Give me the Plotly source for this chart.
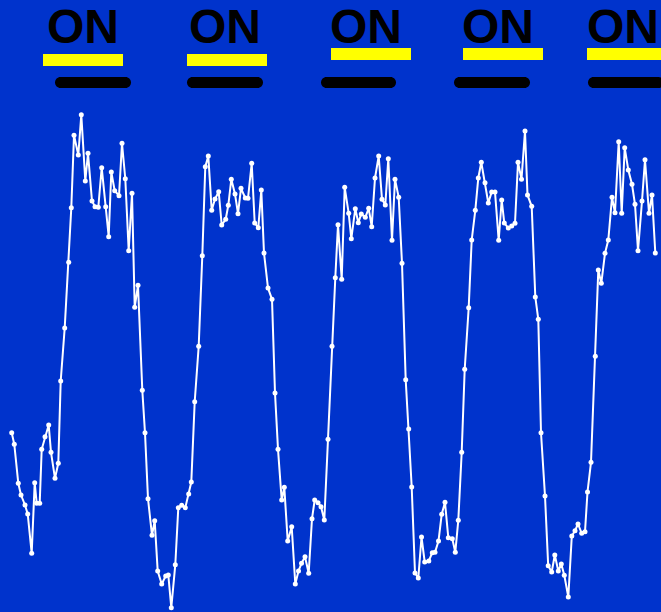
import plotly.graph_objects as go

# Sample positions (time index in px-scale units) and signal level
t = [11.7, 14.3, 18.3, 21, 25, 27.7, 31.7, 34.7, 36.7, 39.7, 41.7, 45, 48.7, 51, 55, 58.3,
     60.7, 64.7, 68.7, 71.3, 74, 78.3, 81.3, 85.3, 88, 92, 95, 98.3, 101.7, 105.7, 108.7,
     111.3, 114.7, 119, 122, 125.3, 128.7, 132, 134.7, 138, 142.3, 145, 148, 152, 154.7,
     157.7, 161.7, 165.7, 168.3, 171.3, 175.3, 178.3, 181.7, 185.3, 188.7, 191.3, 194.7,
     198.7, 202.3, 205.3, 208.3, 211.7, 215, 218.7, 221.7, 225.7, 228.3, 231.3, 235, 238,
     241, 245.3, 248, 251.7, 254.7, 258.3, 261.3, 264, 268, 272, 275, 278, 281.7, 284.3,
     287.7, 291.7, 295.3, 298.5, 301.5, 305, 308.7, 312, 314.7, 318, 321, 324.3, 328, 332,
     335.3, 338, 341.7, 344.7, 348.7, 351.3, 355.3, 358.3, 361.3, 365.3, 368.7, 371.7, 375,
     378.7, 382, 385.3, 388.3, 392, 395, 398.7, 402, 405.7, 408.7, 411.7, 415, 418.3, 421.5,
     424.7, 428.8, 432.3, 435, 438.5, 441.7, 445, 448.3, 452.3, 455.3, 458.3, 461.7, 464.7,
     468.7, 471.7, 475.3, 478.3, 481.3, 485, 488.3, 491.7, 495, 498.7, 501.7, 504.3, 508.3,
     511.7, 515, 518, 521.5, 525, 527.5, 531.7, 535.3, 538.3, 541, 545, 548.2, 551.7, 554.8,
     558.3, 561.3, 564.3, 568.3, 571.8, 575, 578, 581.7, 585, 587.5, 591, 595.3, 598.3,
     601.3, 605, 608.3, 612, 615, 618.7, 621.7, 624.7, 628.3, 632, 635, 638, 642, 645, 649,
     652, 655.3]

# Vertical screen position of each sample (down is larger)
ypix = [432.7, 444.3, 483.3, 495, 505, 514, 553.3, 482.7, 503.3, 503.3, 449.3, 436.7, 425,
        452.3, 478.3, 463.3, 381, 328, 262.3, 207.7, 135.3, 155, 114.7, 181, 153.3, 201,
        206.7, 207.3, 167.7, 206.7, 236.7, 172, 190.7, 195.7, 143.3, 178.7, 250.7, 193.3,
        307.3, 285.3, 390.3, 432.7, 498.7, 535.3, 520.7, 571, 584, 576, 575, 607.7, 564.7,
        507.7, 505.3, 507.7, 494, 482, 401.7, 346.3, 255.7, 166.7, 156, 210.3, 199, 191.7,
        225, 219.3, 205.3, 179.3, 194, 213.7, 188.3, 198, 198.3, 163.3, 223, 227.7, 190, 253,
        288, 299.3, 393, 449.3, 500, 487.3, 541, 526.7, 584, 571, 563.3, 556.7, 573.3, 518.7,
        500, 502.7, 506.7, 520, 439.3, 346.3, 277.7, 224.7, 279.3, 187.3, 213.3, 238.7,
        208.7, 222.7, 214, 217.3, 208.3, 226.7, 178, 156, 199.3, 205, 158.7, 240.3, 179.3,
        197.3, 263.3, 379.7, 429, 487, 573, 578, 537, 562, 561, 552.7, 552.3, 541, 514.3,
        502.3, 537.7, 538.7, 552.3, 520.3, 452.3, 369.3, 307.7, 240, 210.3, 178, 162.3,
        182.7, 203, 192, 192, 240.3, 200, 223, 228, 226, 223.3, 162.3, 179.3, 131, 195,
        206.3, 297, 319.3, 432.7, 496, 565.7, 572, 555, 571, 564, 575.3, 597, 536, 530.7,
        524, 533.3, 531.7, 492, 462.3, 356.3, 270, 283.3, 253.3, 240, 197.3, 212.7, 141.7,
        213.3, 147.7, 170, 184.3, 204.3, 250.7, 201, 159.7, 213.3, 195, 253]

H = 612
signal = [H - v for v in ypix]

on_label = ["ON", "ON", "ON", "ON", "ON"]
on_label_x = [83, 224.5, 365.5, 497.5, 623]
yellow_start = [43, 187, 331, 463, 587]
yellow_end = [123, 267, 411, 543, 667]
yellow_top = [54, 54, 48, 48, 48]
black_start = [55, 187, 321, 454, 588]
black_end = [131, 263, 396, 530, 664]

BG = "#0033cc"

fig = go.Figure()
fig.add_trace(go.Scatter(
    x=t, y=signal, mode="lines+markers",
    line=dict(color="white", width=2),
    marker=dict(color="white", size=5),
    hoverinfo="skip", showlegend=False,
))

shapes = []
for x0, x1, yt in zip(yellow_start, yellow_end, yellow_top):
    shapes.append(dict(type="rect", xref="x", yref="y", x0=x0, x1=x1,
                       y0=H - yt - 12, y1=H - yt, fillcolor="#ffff00",
                       line=dict(width=0), layer="above"))


def pill(x0, x1, yc, r):
    k = 0.5523 * r
    return (f"M{x0 + r},{yc + r} L{x1 - r},{yc + r} "
            f"C{x1 - r + k},{yc + r} {x1},{yc + k} {x1},{yc} "
            f"C{x1},{yc - k} {x1 - r + k},{yc - r} {x1 - r},{yc - r} "
            f"L{x0 + r},{yc - r} "
            f"C{x0 + r - k},{yc - r} {x0},{yc - k} {x0},{yc} "
            f"C{x0},{yc + k} {x0 + r - k},{yc + r} {x0 + r},{yc + r} Z")


for x0, x1 in zip(black_start, black_end):
    shapes.append(dict(type="path", xref="x", yref="y",
                       path=pill(x0, x1, H - 82.5, 5.5),
                       fillcolor="black", line=dict(width=0), layer="above"))

annotations = []
for lbl, x in zip(on_label, on_label_x):
    annotations.append(dict(x=x, y=H - 26.5, xref="x", yref="y", text=f"<b>{lbl}</b>",
                            showarrow=False, xanchor="center", yanchor="middle",
                            font=dict(family="Liberation Sans, Arial, sans-serif",
                                      size=48, color="black")))

fig.update_layout(
    width=661, height=612,
    margin=dict(l=0, r=0, t=0, b=0),
    paper_bgcolor=BG, plot_bgcolor=BG,
    xaxis=dict(range=[0, 661], visible=False, showgrid=False, zeroline=False),
    yaxis=dict(range=[0, H], visible=False, showgrid=False, zeroline=False),
    shapes=shapes, annotations=annotations,
)

fig.write_html(
    "out.html",
    config={"displayModeBar": False},
    post_script=(
        "document.documentElement.style.margin='0';"
        "document.documentElement.style.overflow='hidden';"
        "document.body.style.margin='0';"
        "document.body.style.overflow='hidden';"
        f"document.body.style.background='{BG}';"
    ),
)
